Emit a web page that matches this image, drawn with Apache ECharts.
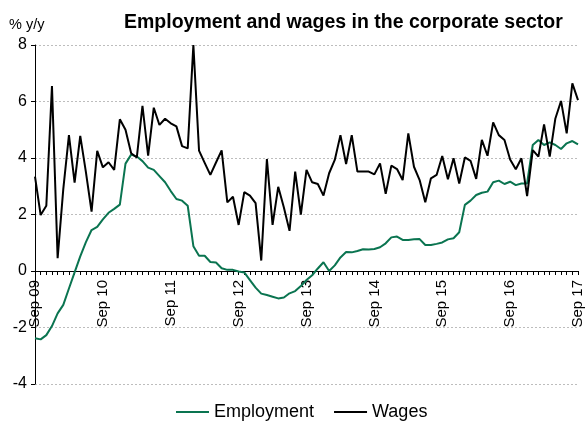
<!DOCTYPE html>
<html><head><meta charset="utf-8">
<script src="https://cdn.jsdelivr.net/npm/echarts@6/dist/echarts.min.js"></script>
<style>html,body{margin:0;padding:0;background:#fff}#c{width:586px;height:421px}</style>
</head><body><div id="c"></div>
<script>
var yearLabels = ['09','10','11','12','13','14','15','16','17'];
var monthNames = ['Sep','Oct','Nov','Dec','Jan','Feb','Mar','Apr','May','Jun','Jul','Aug'];
var categories = [];
(function(){ for (var y = 0; y < yearLabels.length; y++) { for (var m = 0; m < 12; m++) { if (y === yearLabels.length - 1 && m > 0) break; categories.push(monthNames[m] + ' ' + (m < 4 ? yearLabels[y] : (yearLabels[y+1] || ''))); } } })();

var employment = [-2.38,-2.42,-2.27,-1.95,-1.5,-1.2,-0.62,-0.05,0.52,1.02,1.45,1.56,1.83,2.06,2.2,2.35,3.8,4.12,4.05,3.89,3.66,3.58,3.36,3.14,2.83,2.55,2.49,2.31,0.88,0.54,0.54,0.32,0.3,0.1,0.04,0.04,-0.02,-0.05,-0.32,-0.59,-0.8,-0.85,-0.91,-0.97,-0.94,-0.79,-0.71,-0.53,-0.32,-0.15,0.09,0.31,0.0,0.2,0.48,0.67,0.66,0.71,0.77,0.76,0.78,0.84,0.98,1.19,1.22,1.1,1.1,1.12,1.13,0.92,0.92,0.96,1.01,1.12,1.16,1.37,2.34,2.49,2.69,2.77,2.81,3.14,3.2,3.08,3.16,3.04,3.1,3.1,4.46,4.64,4.46,4.55,4.46,4.32,4.52,4.6,4.48];
var wages = [3.34,1.98,2.31,6.55,0.45,2.9,4.81,3.13,4.78,3.5,2.1,4.25,3.67,3.85,3.58,5.37,5.0,4.17,4.02,5.85,4.08,5.78,5.17,5.39,5.23,5.12,4.42,4.34,8.0,4.26,3.83,3.40,3.84,4.27,2.43,2.63,1.63,2.79,2.67,2.40,0.37,3.96,1.63,2.98,2.25,1.42,3.52,2.0,3.58,3.14,3.08,2.67,3.46,3.93,4.81,3.79,4.81,3.52,3.52,3.52,3.42,3.81,2.73,3.73,3.61,3.22,4.87,3.69,3.22,2.43,3.28,3.40,4.07,3.25,3.99,3.10,4.02,3.90,3.26,4.64,4.08,5.26,4.81,4.64,3.95,3.6,3.99,2.65,4.28,4.05,5.19,4.05,5.40,6.02,4.87,6.64,6.05];
var yMin = -4, yMax = 8, yStep = 2;

var gridTop = 45, gridBottom = 37, chartH = 421;
var plotH = chartH - gridTop - gridBottom;
var zeroOffset = -plotH * (0 - yMin) / (yMax - yMin);

var chart = echarts.init(document.getElementById('c'), null, {renderer:'canvas'});
var font = 'Liberation Sans, Arial, sans-serif';
chart.setOption({
  animation: false,
  backgroundColor: '#fff',
  textStyle: {fontFamily: font},
  title: [
    {text: 'Employment and wages in the corporate sector', left: 119, top: 8,
     textStyle: {fontFamily: font, fontSize: 19.5, fontWeight: 'bold', color: '#000'}},
    {text: '% y/y', left: 4, top: 12, textStyle: {fontFamily: font, fontSize: 14.5, fontWeight: 'normal', color: '#000'}}
  ],
  legend: {
    left: 171, top: 398, itemWidth: 33, itemHeight: 2, itemGap: 20, icon: 'rect',
    textStyle: {fontFamily: font, fontSize: 18, color: '#000'},
    data: ['Employment', 'Wages']
  },
  grid: {left: 35, right: 8, top: gridTop, bottom: gridBottom, containLabel: false, outerBoundsMode: 'none'},
  xAxis: {
    type: 'category', data: categories, boundaryGap: false,
    position: 'bottom', offset: zeroOffset,
    axisLine: {onZero: false, lineStyle: {color: '#000', width: 1}},
    axisTick: {show: true, interval: 0, length: 4, lineStyle: {color: '#000'}},
    axisLabel: {
      interval: 11, rotate: 90, margin: 9, fontSize: 15, color: '#000', fontFamily: font,
      formatter: function (v, i) { return 'Sep ' + yearLabels[Math.round(i / 12)]; }
    },
    splitLine: {show: false}
  },
  yAxis: {
    type: 'value', min: yMin, max: yMax, interval: yStep,
    axisLine: {show: true, lineStyle: {color: '#000'}},
    axisTick: {show: true, length: 4, lineStyle: {color: '#000'}},
    axisLabel: {fontSize: 16, color: '#000', margin: 8, fontFamily: font},
    splitLine: {show: true, lineStyle: {color: '#bdbdbd', type: [2, 2], width: 1}}
  },
  series: [
    {name: 'Employment', type: 'line', data: employment, showSymbol: false, symbol: 'none',
     lineStyle: {color: '#0a7450', width: 2}, itemStyle: {color: '#0a7450'}},
    {name: 'Wages', type: 'line', data: wages, showSymbol: false, symbol: 'none',
     lineStyle: {color: '#000', width: 2}, itemStyle: {color: '#000'}}
  ]
});
</script></body></html>
